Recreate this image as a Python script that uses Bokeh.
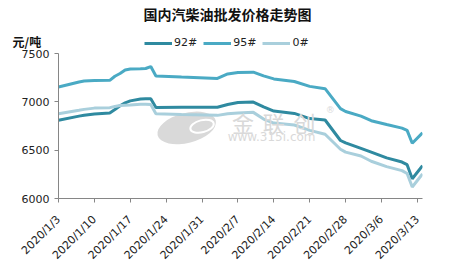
import pandas as pd
from math import pi
from bokeh.plotting import figure
from bokeh.layouts import column
from bokeh.models import Range1d, FixedTicker, Legend, LegendItem, Label
from bokeh.embed import file_html
from bokeh.resources import INLINE

title_text = "国内汽柴油批发价格走势图"
unit_text = "元/吨"
series_names = ["92#", "95#", "0#"]

dates = ["2020-01-03", "2020-01-07", "2020-01-08", "2020-01-10", "2020-01-13",
         "2020-01-14", "2020-01-15", "2020-01-16", "2020-01-17", "2020-01-19",
         "2020-01-20", "2020-01-21", "2020-01-22", "2020-01-27", "2020-02-03",
         "2020-02-05", "2020-02-07", "2020-02-10", "2020-02-12", "2020-02-14",
         "2020-02-18", "2020-02-21", "2020-02-24", "2020-02-27", "2020-02-28",
         "2020-03-02", "2020-03-04", "2020-03-07", "2020-03-10", "2020-03-11",
         "2020-03-12", "2020-03-14"]
p92 = [6809, 6852, 6862, 6875, 6885, 6920, 6960, 6990, 7010, 7030,
       7031, 7031, 6942, 6944, 6944, 6972, 6993, 6997, 6948, 6905,
       6880, 6827, 6812, 6600, 6575, 6518, 6480, 6420, 6377, 6350,
       6204, 6340]
p95 = [7153, 7205, 7215, 7220, 7222, 7265, 7293, 7330, 7340, 7342,
       7345, 7365, 7268, 7256, 7242, 7288, 7303, 7307, 7268, 7237,
       7210, 7160, 7136, 6930, 6900, 6852, 6805, 6765, 6728, 6705,
       6572, 6680]
p0 = [6877, 6912, 6922, 6935, 6940, 6952, 6962, 6965, 6968, 6975,
      6976, 6972, 6876, 6868, 6860, 6876, 6885, 6891, 6822, 6780,
      6760, 6705, 6665, 6510, 6480, 6440, 6385, 6330, 6288, 6258,
      6119, 6255]

tick_dates = ["2020-01-03", "2020-01-10", "2020-01-17", "2020-01-24", "2020-01-31",
              "2020-02-07", "2020-02-14", "2020-02-21", "2020-02-28", "2020-03-06",
              "2020-03-13"]
tick_labels = ["2020/1/3", "2020/1/10", "2020/1/17", "2020/1/24", "2020/1/31",
               "2020/2/7", "2020/2/14", "2020/2/21", "2020/2/28", "2020/3/6",
               "2020/3/13"]
y_ticks = [6000, 6500, 7000, 7500]

colors = ["#2F8AA0", "#4AAAC4", "#A9CFDC"]

x = pd.to_datetime(dates)
tick_ms = [pd.Timestamp(d).value / 1e6 for d in tick_dates]

# ---------- header (title, unit, legend) ----------
HW, HH = 453, 49
h = figure(width=HW, height=HH, output_backend="svg", toolbar_location=None,
           x_range=Range1d(0, HW), y_range=Range1d(0, HH),
           x_axis_location=None, y_axis_location=None, min_border=0)
h.frame_align = False
h.outline_line_color = None
h.grid.visible = False
h.border_fill_color = "white"

h.add_layout(Label(x=227, y=HH - 13.5, text=title_text, text_align="center",
                   text_baseline="middle", text_font="Noto Sans CJK SC",
                   text_font_size="14px", text_font_style="bold", text_color="#111111"))
h.add_layout(Label(x=12, y=HH - 41, text=unit_text, text_align="left",
                   text_baseline="middle", text_font="Noto Sans CJK SC",
                   text_font_size="12px", text_font_style="bold", text_color="#111111"))

nan = float("nan")
leg_renderers = [h.line(x=[nan], y=[nan], line_color=c, line_width=3) for c in colors]
legend = Legend(items=[LegendItem(label=n, renderers=[r]) for n, r in zip(series_names, leg_renderers)],
                orientation="horizontal", location=(144, 0),
                label_text_font="DejaVu Sans", label_text_font_size="11px",
                label_text_color="#222222", glyph_width=28, glyph_height=10,
                label_standoff=2, spacing=6, padding=0, margin=0,
                border_line_color=None, background_fill_alpha=0,
                label_height=12, label_width=10)
h.add_layout(legend)

# ---------- main chart ----------
p = figure(width=453, height=269 - HH, output_backend="svg", toolbar_location=None,
           x_axis_type="datetime",
           x_range=Range1d(pd.Timestamp("2020-01-03"), pd.Timestamp("2020-03-14")),
           y_range=Range1d(6000, 7500),
           min_border_left=58, min_border_right=31, min_border_top=4, min_border_bottom=69)
p.frame_align = False
p.outline_line_color = None
p.grid.visible = False
p.background_fill_color = "white"
p.border_fill_color = "white"

axis_color = "#868686"
for ax in (p.xaxis[0], p.yaxis[0]):
    ax.axis_line_color = axis_color
    ax.major_tick_line_color = axis_color
    ax.minor_tick_line_color = None
    ax.major_tick_in = 0
    ax.major_tick_out = 4
    ax.major_label_text_font = "DejaVu Sans"
    ax.major_label_text_font_size = "11px"
    ax.major_label_text_color = "#222222"

p.yaxis.ticker = FixedTicker(ticks=y_ticks)
p.yaxis.major_label_standoff = 5
p.xaxis.ticker = FixedTicker(ticks=tick_ms)
p.xaxis.major_label_overrides = {t: lab for t, lab in zip(tick_ms, tick_labels)}
p.xaxis.major_label_orientation = pi / 4
p.xaxis.major_label_standoff = 15

# watermark (decorative, placed in data space)
wm = "#d9d9d9"
p.ellipse(x=[pd.Timestamp("2020-01-28")], y=[6730], width=60, height=30,
          width_units="screen", height_units="screen", angle=0.25,
          fill_color=wm, line_color=None)
p.ellipse(x=[pd.Timestamp("2020-01-31")], y=[6748], width=24, height=12,
          width_units="screen", height_units="screen", angle=0.25,
          fill_color=None, line_color="white", line_width=2)
for d, ch in zip(["2020-02-08", "2020-02-14", "2020-02-20"], "金联创"):
    p.add_layout(Label(x=pd.Timestamp(d), y=6796, text=ch, text_align="center",
                       text_baseline="middle", text_font="Noto Sans CJK SC",
                       text_font_size="22px", text_color=wm))
p.add_layout(Label(x=pd.Timestamp("2020-02-25"), y=6918, text="®", text_align="center",
                   text_baseline="middle", text_font="DejaVu Sans", text_font_size="9px",
                   text_color=wm))
p.add_layout(Label(x=pd.Timestamp("2020-02-05"), y=6633, text="www.315i.com",
                   text_align="left", text_baseline="middle", text_font="DejaVu Sans",
                   text_font_size="12px", text_color=wm))

for vals, c in zip([p92, p95, p0], colors):
    p.line(x=x, y=vals, line_color=c, line_width=3)

layout = column(h, p, spacing=0)
open("out.html", "w").write(file_html(layout, INLINE))
